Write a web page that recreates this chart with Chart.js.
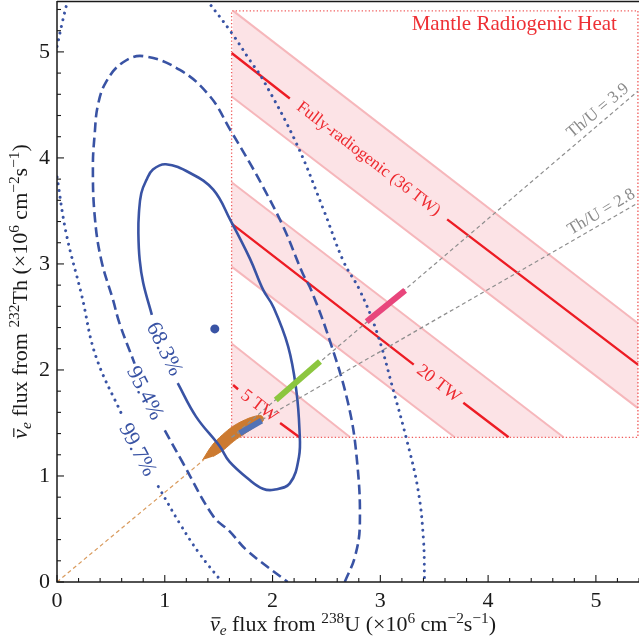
<!DOCTYPE html>
<html><head><meta charset="utf-8">
<script src="https://cdn.jsdelivr.net/npm/chart.js@4"></script>
<style>html,body{margin:0;padding:0;background:#fff}canvas{display:block}</style>
</head><body>
<canvas id="c" width="639" height="643"></canvas>
<script>
// ===== values (flux in 1e6 cm^-2 s^-1) =====
const xTicks = [0,1,2,3,4,5];
const yTicks = [0,1,2,3,4,5];

// 68.3% contour (solid) – open at its label
const c68U  = [1.12,1.29,1.51,1.60,1.79,1.91,2.01,2.16,2.245,2.25,2.22,2.145,2.006,1.913,1.79,1.61,1.45,1.23,1.01,0.89,0.829,0.782,0.76,0.755,0.767,0.80,0.88];
const c68Th = [1.875,1.56,1.28,1.135,0.96,0.88,0.87,0.93,1.18,1.43,1.81,2.22,2.597,2.755,3.05,3.41,3.70,3.86,3.94,3.89,3.79,3.667,3.478,3.29,3.04,2.82,2.52];
// 95.4% contour (dashed)
const c95U  = [1.00,1.17,1.45,1.60,1.76,2.14,null,2.67,2.765,2.81,2.78,2.70,2.53,2.36,2.28,2.10,1.91,1.79,1.61,1.42,1.14,0.80,0.61,0.457,0.38,0.35,0.333,0.35,0.41,0.52,0.58,0.72];
const c95Th = [1.43,1.12,0.62,0.48,0.30,0.0,null,0.0,0.24,0.55,1.18,1.69,2.28,2.75,2.91,3.35,3.73,3.95,4.26,4.58,4.83,4.96,4.90,4.72,4.50,4.23,3.92,3.45,3.04,2.66,2.44,2.06];
// 99.7% contour (dotted), visible pieces
const c99aU = [0.0,0.085,0.23,0.36,0.61];
const c99aTh= [3.82,3.29,2.70,2.13,1.56];
const c99bU = [0.94,1.14,1.32,1.53];
const c99bTh= [0.90,0.55,0.27,0.0];
const c99cU = [0.10,0.054,0.0];
const c99cTh= [5.49,5.30,5.05];
const c99dU = [1.39,1.62,1.79,1.91,2.22,2.47,2.66,2.81,2.97,3.12,3.245,3.35,3.40,3.41];
const c99dTh= [5.49,5.18,4.92,4.74,4.14,3.52,3.02,2.75,2.35,1.81,1.34,0.87,0.40,0.0];
// best fit point
const fitU = [1.464], fitTh = [2.387];

// crust prediction (orange ellipse) and the U/Th ratio line through the origin
const crustU  = [1.35,1.44,1.535,1.63,1.725,1.82,1.895,1.915,1.83,1.735,1.64,1.545,1.45];
const crustTh = [1.15,1.29,1.388,1.466,1.52,1.558,1.568,1.525,1.46,1.395,1.328,1.246,1.184];
const originLineU = [0,1.36], originLineTh = [0,1.15];

// mantle region box
const boxU  = [1.62,1.62,5.39,5.39,1.62];
const boxTh = [1.365,5.387,5.387,1.365,1.365];

// Th/U lines from the crust corner
const thu39U = [1.62,5.39], thu39Th = [1.365,4.63];
const thu28U = [1.62,5.39], thu28Th = [1.365,3.575];

// model segments on the Th/U lines
const pinkU = [2.873,3.23], pinkTh = [2.456,2.75];
const greenU = [2.03,2.44], greenTh = [1.717,2.08];
const blueSegU = [1.696,1.898], blueSegTh = [1.403,1.522];

// heat bands: centre lines (split at labels), edges, fills
const h36U = [1.62,2.16,null,3.62,5.39], h36Th = [4.99,4.56,null,3.42,2.05];
const h20U = [1.62,3.31,null,3.77,4.19], h20Th = [3.38,2.05,null,1.69,1.365];
const h5U  = [1.634,1.68,null,2.07,2.25], h5Th = [1.858,1.818,null,1.50,1.365];
const e36hiU=[1.635,5.39], e36hiTh=[5.387,2.44];
const e36loU=[1.62,5.39],  e36loTh=[4.58,1.64];
const e20hiU=[1.62,4.70],  e20hiTh=[3.77,1.365];
const e20loU=[1.62,3.69],  e20loTh=[2.975,1.365];
const e5hiU =[1.62,2.72],  e5hiTh =[2.25,1.365];
const e5loU =[1.62,1.74],  e5loTh =[1.46,1.365];
const b36U=[1.635,5.39,5.39,1.62], b36Th=[5.387,2.44,1.64,4.58];
const b20U=[1.62,4.70,3.69,1.62],  b20Th=[3.77,1.365,1.365,2.975];
const b5U =[1.62,2.72,1.74,1.62],  b5Th =[2.25,1.365,1.365,1.46];

// ===== styling =====
const SERIF = '"Liberation Serif","Times New Roman",serif';
const BLUE = '#3953a4', RED = '#ed1c24', PINKFILL = '#fce3e6', PINKEDGE = '#f6b7bb', GRAY = '#8e8e8e';

function pts(xs, ys){ return xs.map((v,i)=> (v===null||ys[i]===null) ? {x:null,y:null} : {x:v,y:ys[i]}); }
function ln(xs, ys, o){ return Object.assign({data:pts(xs,ys), borderColor:'#000', borderWidth:1, pointRadius:0, pointHoverRadius:0, fill:false, tension:0, spanGaps:false}, o); }

const datasets = [
  ln(fitU, fitTh, {showLine:false, pointRadius:4.5, pointBackgroundColor:BLUE, pointBorderWidth:0}),
  ln(pinkU, pinkTh, {borderColor:'#e8467c', borderWidth:6}),
  ln(greenU, greenTh, {borderColor:'#8cc63f', borderWidth:6}),
  ln(blueSegU, blueSegTh, {borderColor:'#5272b5', borderWidth:6}),
  ln(thu39U, thu39Th, {borderColor:GRAY, borderWidth:1.2, borderDash:[4,3]}),
  ln(thu28U, thu28Th, {borderColor:GRAY, borderWidth:1.2, borderDash:[4,3]}),
  ln(c68U, c68Th, {borderColor:BLUE, borderWidth:2.6, tension:0.4}),
  ln(c95U, c95Th, {borderColor:BLUE, borderWidth:2.6, tension:0.4, borderDash:[10,5]}),
  ln(c99aU, c99aTh, {borderColor:BLUE, borderWidth:3, tension:0.4, borderDash:[0.01,6.8], borderCapStyle:'round'}),
  ln(c99bU, c99bTh, {borderColor:BLUE, borderWidth:3, tension:0.4, borderDash:[0.01,6.8], borderCapStyle:'round'}),
  ln(c99cU, c99cTh, {borderColor:BLUE, borderWidth:3, tension:0.4, borderDash:[0.01,6.8], borderCapStyle:'round'}),
  ln(c99dU, c99dTh, {borderColor:BLUE, borderWidth:3, tension:0.4, borderDash:[0.01,6.8], borderCapStyle:'round'}),
  ln(crustU, crustTh, {borderColor:'#cc7a30', borderWidth:1, backgroundColor:'#cc7a30', fill:'shape', tension:0.4}),
  ln(originLineU, originLineTh, {borderColor:'#d99b5e', borderWidth:1.2, borderDash:[4,3]}),
  ln(h36U, h36Th, {borderColor:RED, borderWidth:2.4}),
  ln(h20U, h20Th, {borderColor:RED, borderWidth:2.4}),
  ln(h5U, h5Th, {borderColor:RED, borderWidth:2.4}),
  ln(boxU, boxTh, {borderColor:'#f05a5a', borderWidth:1.3, borderDash:[1.3,2.2]}),
  ln(e36hiU, e36hiTh, {borderColor:PINKEDGE, borderWidth:2}),
  ln(e36loU, e36loTh, {borderColor:PINKEDGE, borderWidth:2}),
  ln(e20hiU, e20hiTh, {borderColor:PINKEDGE, borderWidth:2}),
  ln(e20loU, e20loTh, {borderColor:PINKEDGE, borderWidth:2}),
  ln(e5hiU, e5hiTh, {borderColor:PINKEDGE, borderWidth:2}),
  ln(e5loU, e5loTh, {borderColor:PINKEDGE, borderWidth:2}),
  ln(b36U, b36Th, {borderWidth:0, borderColor:'rgba(0,0,0,0)', backgroundColor:PINKFILL, fill:'shape'}),
  ln(b20U, b20Th, {borderWidth:0, borderColor:'rgba(0,0,0,0)', backgroundColor:PINKFILL, fill:'shape'}),
  ln(b5U, b5Th, {borderWidth:0, borderColor:'rgba(0,0,0,0)', backgroundColor:PINKFILL, fill:'shape'})
];

// text annotations (data coordinates)
const notes = [
  {t:'68.3%', x:0.992, y:2.196, rot:64, c:BLUE, s:22},
  {t:'95.4%', x:0.813, y:1.78, rot:63, c:BLUE, s:22},
  {t:'99.7%', x:0.743, y:1.245, rot:62, c:BLUE, s:22},
  {t:'Mantle Radiogenic Heat', x:4.243, y:5.259, rot:0, c:'#ee3035', s:21},
  {t:'Fully-radiogenic (36 TW)', x:2.89, y:3.99, rot:37.5, c:'#ee2a30', s:17},
  {t:'20 TW', x:3.54, y:1.87, rot:37.5, c:'#ee2a30', s:18},
  {t:'5 TW', x:1.875, y:1.66, rot:37.5, c:'#ee2a30', s:18},
  {t:'Th/U = 3.9', x:5.02, y:4.445, rot:-40, c:'#8a8a8a', s:17},
  {t:'Th/U = 2.8', x:5.05, y:3.49, rot:-30.5, c:'#8a8a8a', s:17}
];

const xTitle = [{t:'ν',it:1,bar:1},{t:'e',it:1,sub:1},{t:' flux from '},{t:'238',sup:1},{t:'U (×10'},{t:'6',sup:1},{t:' cm'},{t:'−2',sup:1},{t:'s'},{t:'−1',sup:1},{t:')'}];
const yTitle = [{t:'ν',it:1,bar:1},{t:'e',it:1,sub:1},{t:' flux from '},{t:'232',sup:1},{t:'Th (×10'},{t:'6',sup:1},{t:' cm'},{t:'−2',sup:1},{t:'s'},{t:'−1',sup:1},{t:')'}];

function richWidth(ctx, parts, size){
  let w=0; for(const p of parts){ const s=(p.sup||p.sub)?size*0.7:size; ctx.font=(p.it?'italic ':'')+s+'px '+SERIF; w+=ctx.measureText(p.t).width; } return w;
}
function drawRich(ctx, parts, size){
  let x=0;
  for(const p of parts){
    const s=(p.sup||p.sub)?size*0.7:size;
    ctx.font=(p.it?'italic ':'')+s+'px '+SERIF;
    const dy = p.sup ? -size*0.38 : (p.sub ? size*0.2 : 0);
    ctx.fillText(p.t, x, dy);
    const w=ctx.measureText(p.t).width;
    if(p.bar){ ctx.save(); ctx.lineWidth=1.2; ctx.strokeStyle=ctx.fillStyle; ctx.beginPath(); ctx.moveTo(x+size*0.08, -size*0.6); ctx.lineTo(x+w+size*0.04, -size*0.6); ctx.stroke(); ctx.restore(); }
    x+=w;
  }
}

const decor = {
  id:'decor',
  afterDatasetsDraw(chart){
    const {ctx, chartArea:a, scales:{x, y}} = chart;
    ctx.save();
    ctx.strokeStyle='#1a1a1a'; ctx.lineWidth=1.5;
    ctx.beginPath(); ctx.moveTo(a.left, a.top); ctx.lineTo(a.left, a.bottom); ctx.lineTo(a.right, a.bottom); ctx.stroke();
    ctx.beginPath(); ctx.moveTo(a.left, a.top+0.5); ctx.lineTo(a.right, a.top+0.5); ctx.stroke();
    ctx.lineWidth=1.1;
    for(let i=0;i<=27;i++){
      const v=i*0.2, L=(i%5===0)?7:4;
      const px=x.getPixelForValue(v);
      ctx.beginPath(); ctx.moveTo(px, a.bottom); ctx.lineTo(px, a.bottom-L); ctx.stroke();
      const py=y.getPixelForValue(v);
      if(py>=a.top){ ctx.beginPath(); ctx.moveTo(a.left, py); ctx.lineTo(a.left+L, py); ctx.stroke(); }
    }
    // annotations
    ctx.textAlign='center'; ctx.textBaseline='middle';
    for(const n of notes){
      ctx.save();
      ctx.translate(x.getPixelForValue(n.x), y.getPixelForValue(n.y));
      ctx.rotate(n.rot*Math.PI/180);
      ctx.font=n.s+'px '+SERIF; ctx.fillStyle=n.c;
      ctx.fillText(n.t,0,0);
      ctx.restore();
    }
    // axis titles
    ctx.textAlign='left'; ctx.textBaseline='alphabetic'; ctx.fillStyle='#1a1a1a';
    const ts=22;
    let w=richWidth(ctx,xTitle,ts);
    ctx.save(); ctx.translate((a.left+a.right)/2+5-w/2, 631); drawRich(ctx,xTitle,ts); ctx.restore();
    w=richWidth(ctx,yTitle,ts);
    ctx.save(); ctx.translate(27,(a.top+a.bottom)/2+w/2); ctx.rotate(-Math.PI/2); drawRich(ctx,yTitle,ts); ctx.restore();
    ctx.restore();
  }
};

const tickFont = {family:SERIF, size:22};
new Chart(document.getElementById('c'), {
  type:'line',
  data:{datasets},
  options:{
    responsive:false, animation:false, events:[],
    layout:{autoPadding:false, padding:{top:1,right:0,left:0,bottom:0}},
    elements:{line:{capBezierPoints:false}},
    plugins:{legend:{display:false}, tooltip:{enabled:false}},
    scales:{
      x:{type:'linear', min:0, max:5.4, offset:false,
         afterBuildTicks:s=>{s.ticks=xTicks.map(v=>({value:v}));},
         ticks:{font:tickFont, color:'#1a1a1a', padding:6, maxRotation:0, autoSkip:false},
         grid:{display:false, drawTicks:false}, border:{display:false},
         afterFit:s=>{s.height=61; s.paddingLeft=0; s.paddingRight=0;}},
      y:{type:'linear', min:0, max:5.48,
         afterBuildTicks:s=>{s.ticks=yTicks.map(v=>({value:v}));},
         ticks:{font:tickFont, color:'#1a1a1a', padding:7, autoSkip:false},
         grid:{display:false, drawTicks:false}, border:{display:false},
         afterFit:s=>{s.width=57; s.paddingTop=0; s.paddingBottom=0;}}
    }
  },
  plugins:[decor]
});
</script>
</body></html>
